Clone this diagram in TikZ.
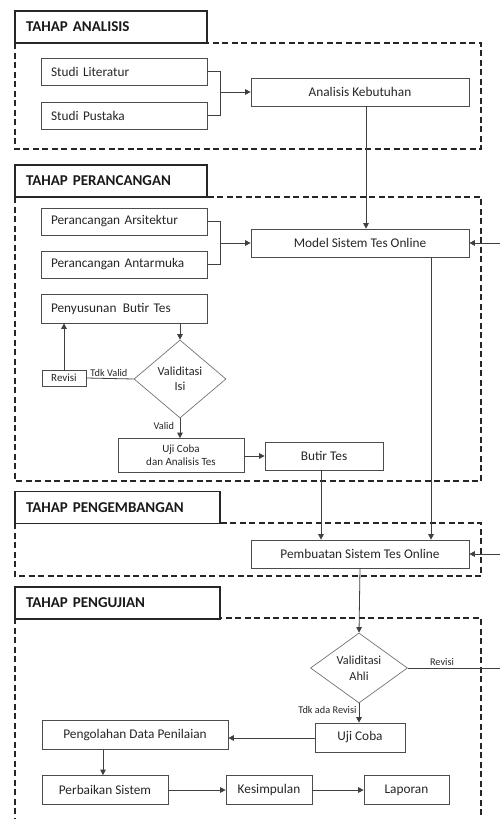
\documentclass[tikz,border=0pt]{standalone}
\usepackage{fontspec}
\setmainfont{Carlito}
\usetikzlibrary{arrows.meta,shapes.geometric,positioning}

\begin{document}
\begin{tikzpicture}[x=1pt,y=1pt,yscale=-1,
  >={Triangle[length=5.5pt,width=5.5pt]},
  garis/.style={draw=black!75, line width=0.8pt},
  bingkai/.style={draw=black!85, line width=1.3pt, dash pattern=on 6pt off 3.5pt},
  judul/.style={draw=black!85, line width=1.6pt, fill=white, text=black!90, font=\bfseries\fontsize{15}{18}\selectfont, align=left, inner xsep=11pt, minimum height=32pt},
  kotak/.style={draw=black!70, line width=0.7pt, text=black!85, font=\fontsize{13.3}{16}\selectfont, minimum height=28pt, inner sep=2pt, align=center},
  kiri/.style={kotak, align=left, text width=146pt, inner xsep=10pt, minimum height=27pt},
  kecil/.style={kotak, font=\fontsize{11}{12.7}\selectfont},
  belah/.style={diamond, draw=black!55, line width=0.7pt, text=black!85, inner sep=0pt, align=center, font=\fontsize{12.3}{15.5}\selectfont},
  ket/.style={text=black!85, inner sep=0.8pt, font=\fontsize{10.3}{12}\selectfont}]
\useasboundingbox (0,0) rectangle (499,819);

% bingkai tahap
\draw[bingkai] (15,43) rectangle (481,149);
\draw[bingkai] (15,197) rectangle (481,481);
\draw[bingkai] (15,523) rectangle (481,576);
\draw[bingkai] (15,618) rectangle (481,835);

% judul tahap
\node[judul, text width=170pt] (t1) at (111,27) {TAHAP ANALISIS};
\node[judul, text width=170pt] (t2) at (111,181) {TAHAP PERANCANGAN};
\node[judul, text width=183pt] (t3) at (117.5,507.5) {TAHAP PENGEMBANGAN};
\node[judul, text width=183pt] (t4) at (117.5,603) {TAHAP PENGUJIAN};

% tahap analisis
\node[kiri] (sl) at (124,71.5) {Studi Literatur};
\node[kiri] (sp) at (124,115.5) {Studi Pustaka};
\node[kotak, minimum width=218pt] (ak) at (360,92) {Analisis Kebutuhan};
\coordinate (gab1) at (220,92);
\draw[garis] (sl.east) -| (gab1);
\draw[garis] (sp.east) -| (gab1);
\draw[garis,->] (gab1) -- (ak.west);

% tahap perancangan
\node[kiri] (pa) at (124,221.5) {Perancangan Arsitektur};
\node[kiri] (pm) at (124,264.5) {Perancangan Antarmuka};
\node[kotak, minimum width=218pt] (ms) at (360,243) {Model Sistem Tes Online};
\coordinate (gab2) at (220,243);
\draw[garis] (pa.east) -| (gab2);
\draw[garis] (pm.east) -| (gab2);
\draw[garis,->] (gab2) -- (ms.west);
\draw[garis,->] ([xshift=6pt]ak.south) -- ([xshift=6pt]ak.south |- ms.north);

\node[kiri, minimum height=29pt] (pb) at (124,308.5) {Penyusunan\hspace{2pt} Butir Tes};
\node[belah, minimum width=92pt, minimum height=78pt] (vi) at (180,379) {Validitasi\\Isi};
\node[kecil, minimum width=44pt, minimum height=16pt] (rv) at (64,378) {Revisi};
\node[kecil, minimum width=126pt, minimum height=34pt] (uc) at (181,455.5) {Uji Coba\\dan Analisis Tes};
\node[kotak, minimum width=118pt] (bt) at (324,456) {Butir Tes};
\draw[garis,->] (vi.north |- pb.south) -- (vi.north);
\draw[garis] (rv.east) -- (vi.west);
\draw[garis,->] (rv.north) -- (rv.north |- pb.south);
\node[ket, anchor=south west] (tv) at ([xshift=3pt]rv.east) {Tdk Valid};
\draw[garis,->] (vi.south) -- (vi.south |- uc.north);
\node[ket, anchor=east] (lv) at (175,426) {Valid};
\draw[garis,->] (uc.east |- bt.west) -- (bt.west);

% tahap pengembangan
\node[kotak, minimum width=218pt] (pst) at (360,554) {Pembuatan Sistem Tes Online};
\draw[garis,->] ([xshift=-3pt]bt.south) -- ([xshift=-3pt]bt.south |- pst.north);
\draw[garis,->] ([xshift=71pt]ms.south) -- ([xshift=71pt]ms.south |- pst.north);

% tahap pengujian
\node[belah, minimum width=97pt, minimum height=70pt] (va) at (359,668) {Validitasi\\Ahli};
\draw[garis,->] (pst.south) -- (va.north);
\coordinate (balik) at (504,668);
\draw[garis,->] (va.east) -- (balik) |- (ms.east);
\draw[garis,->] (balik |- pst.east) -- (pst.east);
\node[ket, anchor=south west] (rv2) at (429,667) {Revisi};

\node[kotak, minimum width=90pt, minimum height=29pt] (uj) at (360,737.5) {Uji Coba};
\draw[garis,->] (va.south) -- (va.south |- uj.north);
\node[ket, anchor=east] (tr) at (357.5,710) {Tdk ada Revisi};
\node[kotak, minimum width=186pt, minimum height=29pt] (pdp) at (135,735) {Pengolahan Data Penilaian};
\draw[garis,->] ([yshift=0.5pt]uj.west) -- ([yshift=0.5pt]uj.west -| pdp.east);
\node[kotak, minimum width=126pt, minimum height=29pt] (pbs) at (105,790) {Perbaikan Sistem};
\node[kotak, minimum width=86pt, minimum height=29pt] (ks) at (269,790) {Kesimpulan};
\node[kotak, minimum width=85pt, minimum height=29pt] (lp) at (406.5,790) {Laporan};
\draw[garis,->] ([xshift=-2pt]pbs.north |- pdp.south) -- ([xshift=-2pt]pbs.north);
\draw[garis,->] (pbs.east) -- (ks.west);
\draw[garis,->] (ks.east) -- (lp.west);
\end{tikzpicture}
\end{document}
